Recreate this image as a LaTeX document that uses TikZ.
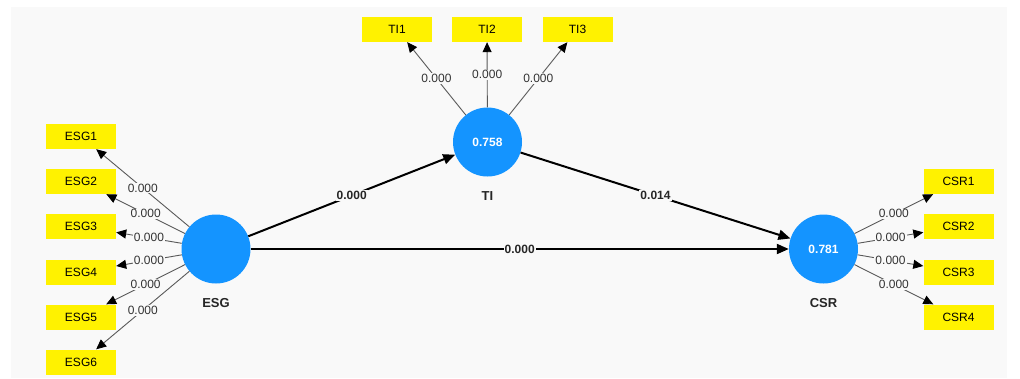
\documentclass[tikz,border=0pt]{standalone}
\usepackage{fontspec}
\setmainfont{Liberation Sans}
\usetikzlibrary{arrows.meta}
\definecolor{panel}{RGB}{249,249,249}
\definecolor{lvblue}{RGB}{20,148,255}
\begin{document}
\begin{tikzpicture}[x=1pt,y=-1pt,
  lv/.style={circle, fill=lvblue, minimum size=69pt, inner sep=0pt, text=white, font=\bfseries\fontsize{12}{14}\selectfont},
  lvname/.style={inner sep=0pt, text=black!85, font=\bfseries\fontsize{13}{15}\selectfont},
  ind/.style={fill=yellow, minimum width=70pt, minimum height=25pt, inner sep=0pt, font=\fontsize{12}{14}\selectfont},
  load/.style={draw=black!65, line width=0.9pt, -{Triangle[length=10pt,width=9pt,color=black]}},
  pathc/.style={draw=black, line width=2pt, -{Triangle[length=12pt,width=10pt]}},
  lbl/.style={fill=panel, inner sep=1pt, text=black!80, font=\fontsize{12}{14}\selectfont},
  plbl/.style={fill=panel, inner sep=1pt, text=black!85, font=\bfseries\fontsize{12}{14}\selectfont}]
\useasboundingbox (0,0) rectangle (1020,378);
\fill[white] (0,0) rectangle (1020,378);
\fill[panel] (11,7) rectangle (1007,378);

% latent variables
\node[lv] (ESG) at (216,249) {};
\node[lv] (TI) at (487.5,142) {0.758};
\node[lv] (CSR) at (823.5,249) {0.781};
\node[lvname] (ESGn) at (216,303) {ESG};
\node[lvname] (TIn) at (487.5,196) {TI};
\node[lvname] (CSRn) at (823.5,303) {CSR};

% indicators
\node[ind] (ESG1) at (81,136.5) {ESG1};
\node[ind] (ESG2) at (81,181.5) {ESG2};
\node[ind] (ESG3) at (81,226.5) {ESG3};
\node[ind] (ESG4) at (81,272) {ESG4};
\node[ind] (ESG5) at (81,317) {ESG5};
\node[ind] (ESG6) at (81,362) {ESG6};
\node[ind] (TI1) at (397,29.5) {TI1};
\node[ind] (TI2) at (487,29.5) {TI2};
\node[ind] (TI3) at (577.5,29.5) {TI3};
\node[ind] (CSR1) at (958.5,181.5) {CSR1};
\node[ind] (CSR2) at (958.5,226.5) {CSR2};
\node[ind] (CSR3) at (958.5,272) {CSR3};
\node[ind] (CSR4) at (958.5,317) {CSR4};

% loadings
\foreach \i in {1,...,6}{
  \draw[load] (ESG) -- node[lbl,pos=0.5] {0.000} (ESG\i);
}
\foreach \i in {1,2,3}{
  \draw[load] (TI) -- node[lbl,pos=0.5] {0.000} (TI\i);
}
\foreach \i in {1,...,4}{
  \draw[load] (CSR) -- node[lbl,pos=0.5] {0.000} (CSR\i);
}

% paths
\draw[pathc] (ESG) -- node[plbl] {0.000} (TI);
\draw[pathc] (TI) -- node[plbl] {0.014} (CSR);
\draw[pathc] (ESG) -- node[plbl] {0.000} (CSR);
\end{tikzpicture}
\end{document}
